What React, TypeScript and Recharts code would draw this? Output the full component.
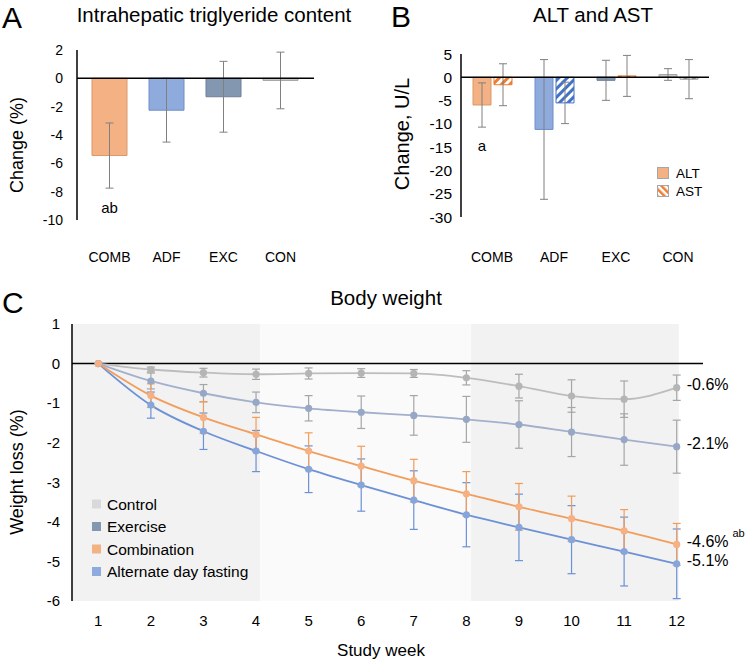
import React from "react";
import {
  Bar,
  BarChart,
  Cell,
  ErrorBar,
  LabelList,
  Line,
  LineChart,
  ReferenceArea,
  ReferenceLine,
  XAxis,
  YAxis,
} from "recharts";

const FONT = '"Liberation Sans", Arial, Helvetica, sans-serif';

// groups shared by panels A and B
const groups = ["COMB", "ADF", "EXC", "CON"];

// A: intrahepatic triglyceride change (%)
const ihtcChange = [-5.45, -2.25, -1.3, -0.15];
const ihtcErr = [2.3, 2.25, 2.5, 2.0];
const ihtcSig = ["ab", "", "", ""];

// B: ALT / AST change (U/L)
const altChange = [-5.95, -11.2, -0.65, 0.6];
const altErr = [4.75, 15.0, 4.3, 1.25];
const astChange = [-1.6, -5.5, 0.3, -0.4];
const astErr = [4.5, 4.45, 4.4, 4.2];
const altSig = ["a", "", "", ""];

// C: body weight change (%) by study week
const weeks = [1, 2, 3, 4, 5, 6, 7, 8, 9, 10, 11, 12];
const controlLoss = [0, -0.15, -0.23, -0.27, -0.25, -0.24, -0.25, -0.36, -0.57, -0.82, -0.9, -0.61];
const controlErr = [0, 0.06, 0.11, 0.13, 0.14, 0.11, 0.1, 0.18, 0.3, 0.41, 0.46, 0.32];
const exerciseLoss = [0, -0.44, -0.75, -0.98, -1.13, -1.23, -1.31, -1.41, -1.54, -1.73, -1.92, -2.1];
const exerciseErr = [0, 0.2, 0.22, 0.26, 0.32, 0.41, 0.5, 0.58, 0.6, 0.62, 0.65, 0.67];
const combinationLoss = [0, -0.81, -1.36, -1.79, -2.21, -2.59, -2.96, -3.29, -3.62, -3.92, -4.23, -4.57];
const combinationErr = [0, 0.3, 0.4, 0.43, 0.46, 0.5, 0.54, 0.56, 0.59, 0.57, 0.54, 0.53];
const adfLoss = [0, -1.05, -1.71, -2.21, -2.67, -3.07, -3.45, -3.82, -4.14, -4.45, -4.75, -5.06];
const adfErr = [0, 0.33, 0.46, 0.52, 0.59, 0.66, 0.74, 0.81, 0.84, 0.86, 0.87, 0.88];
const finalLabels = ["-0.6%", "-2.1%", "-4.6%", "-5.1%"];
const finalSup = ["", "", "ab", ""];
const phaseStart = [0.5, 4.08, 8.09];
const phaseEnd = [4.08, 8.09, 12.04];

const groupFill = ["#F4B183", "#8FAADC", "#8497B0", "#C9C9C9"];
const groupEdge = ["#D9996A", "#6F8FC8", "#6F7F99", "#A6A6A6"];
const groupHatch = ["#ED7D31", "#4472C4", "#ED7D31", "#8C8C8C"];
const phaseFill = ["#F2F2F2", "#FAFAFA", "#F2F2F2"];

const weightSeries = [
  { key: "control", name: "Control", line: "#BDBDBD", dot: "#B5B5B5", err: "#A6A6A6", swatch: "#D9D9D9" },
  { key: "exercise", name: "Exercise", line: "#A3B0CC", dot: "#97A7C6", err: "#A6A6A6", swatch: "#8497B0" },
  { key: "adf", name: "Alternate day fasting", line: "#6C91D6", dot: "#86A5DB", err: "#6C91D6", swatch: "#8FAADC" },
  { key: "combination", name: "Combination", line: "#F29D5C", dot: "#F5B183", err: "#F29D5C", swatch: "#F4B183" },
];
const legendOrder = ["control", "exercise", "combination", "adf"];

const ihtcData = groups.map((g, i) => ({ group: g, change: ihtcChange[i], err: ihtcErr[i], sig: ihtcSig[i] }));
const liverData = groups.map((g, i) => ({
  group: g,
  alt: altChange[i],
  altErr: altErr[i],
  ast: astChange[i],
  astErr: astErr[i],
  sig: altSig[i],
}));
const weightData = weeks.map((w, i) => ({
  week: w,
  control: controlLoss[i],
  controlErr: controlErr[i],
  exercise: exerciseLoss[i],
  exerciseErr: exerciseErr[i],
  combination: combinationLoss[i],
  combinationErr: combinationErr[i],
  adf: adfLoss[i],
  adfErr: adfErr[i],
}));
const finalByKey: Record<string, { text: string; sup: string }> = {
  control: { text: finalLabels[0], sup: finalSup[0] },
  exercise: { text: finalLabels[1], sup: finalSup[1] },
  combination: { text: finalLabels[2], sup: finalSup[2] },
  adf: { text: finalLabels[3], sup: finalSup[3] },
};

const sideTitle = (text: string, x: number, y: number, size: number) => () => (
  <text
    x={x}
    y={y}
    transform={`rotate(-90 ${x} ${y})`}
    textAnchor="middle"
    dominantBaseline="central"
    fontSize={size}
    fill="#000"
  >
    {text}
  </text>
);

// significance letters drawn under a bar
const sigLabel = (offset: number) => (props: any) => {
  const { x, y, width, height, value } = props;
  if (!value) return null;
  const bottom = Math.max(y, y + height);
  return (
    <text x={x + width / 2} y={bottom + offset} textAnchor="middle" dominantBaseline="central" fontSize={15} fill="#000">
      {value}
    </text>
  );
};

const endLabel = (key: string) => (props: any) => {
  const { x, y, index } = props;
  if (index !== weeks.length - 1) return null;
  const f = finalByKey[key];
  return (
    <text x={x + 10} y={y - 3} dominantBaseline="central" fontSize={16} fill="#000">
      {f.text}
      {f.sup ? (
        <tspan dx={4} dy={-8} fontSize={11}>
          {f.sup}
        </tspan>
      ) : null}
    </text>
  );
};

const tickStyle = { fontSize: 14, fill: "#000" };

function PanelA() {
  return (
    <BarChart width={330} height={280} data={ihtcData} margin={{ top: 50, right: 16, bottom: 0, left: 20 }}>
      <XAxis
        dataKey="group"
        axisLine={false}
        tickLine={false}
        height={60}
        tickMargin={26}
        padding={{ left: 4, right: 5 }}
        tick={tickStyle}
      />
      <YAxis
        width={57}
        domain={[-10, 2]}
        ticks={[-10, -8, -6, -4, -2, 0, 2]}
        tickLine={false}
        tickMargin={8}
        axisLine={{ stroke: "#000", strokeWidth: 1.5 }}
        tick={tickStyle}
        label={{ content: sideTitle("Change (%)", 17, 145, 18) }}
      />
      <Bar dataKey="change" barSize={35} isAnimationActive={false}>
        {ihtcData.map((d, i) => (
          <Cell key={d.group} fill={groupFill[i]} stroke={groupEdge[i]} strokeWidth={1} />
        ))}
        <ErrorBar dataKey="err" width={4} stroke="#808080" strokeWidth={1} />
        <LabelList dataKey="sig" content={sigLabel(52)} />
      </Bar>
      <ReferenceLine y={0} stroke="#000" strokeWidth={1.5} />
    </BarChart>
  );
}

function PanelB() {
  return (
    <BarChart
      width={340}
      height={280}
      data={liverData}
      barGap={3}
      margin={{ top: 54, right: 11, bottom: 0, left: 30 }}
    >
      <defs>
        {groupHatch.map((c, i) => (
          <pattern
            key={i}
            id={`hatch-${i}`}
            width={6}
            height={6}
            patternUnits="userSpaceOnUse"
            patternTransform="rotate(45)"
          >
            <rect width={6} height={6} fill="#fff" />
            <rect width={3} height={6} fill={c} />
          </pattern>
        ))}
      </defs>
      <XAxis dataKey="group" axisLine={false} tickLine={false} height={63} tickMargin={29} tick={tickStyle} />
      <YAxis
        width={51}
        domain={[-30, 5]}
        ticks={[-30, -25, -20, -15, -10, -5, 0, 5]}
        tickLine={false}
        tickMargin={3}
        axisLine={{ stroke: "#000", strokeWidth: 1.5 }}
        tick={{ fontSize: 15.5, fill: "#000" }}
        label={{ content: sideTitle("Change, U/L", 22, 134, 20) }}
      />
      <Bar dataKey="alt" barSize={18} isAnimationActive={false}>
        {liverData.map((d, i) => (
          <Cell key={d.group} fill={groupFill[i]} stroke={groupEdge[i]} strokeWidth={1} />
        ))}
        <ErrorBar dataKey="altErr" width={4} stroke="#808080" strokeWidth={1} />
        <LabelList dataKey="sig" content={sigLabel(41)} />
      </Bar>
      <Bar dataKey="ast" barSize={18} isAnimationActive={false}>
        {liverData.map((d, i) => (
          <Cell key={d.group} fill={`url(#hatch-${i})`} stroke={groupHatch[i]} strokeWidth={1} />
        ))}
        <ErrorBar dataKey="astErr" width={4} stroke="#808080" strokeWidth={1} />
      </Bar>
      <ReferenceLine y={0} stroke="#000" strokeWidth={1.5} />
    </BarChart>
  );
}

function PanelC() {
  return (
    <LineChart width={750} height={361} data={weightData} margin={{ top: 24, right: 47, bottom: 0, left: 0 }}>
      {phaseStart.map((s, i) => (
        <ReferenceArea key={i} x1={s} x2={phaseEnd[i]} fill={phaseFill[i]} fillOpacity={1} stroke="none" />
      ))}
      <XAxis
        dataKey="week"
        type="number"
        domain={[0.5, 12.5]}
        ticks={weeks}
        axisLine={false}
        tickLine={false}
        height={60}
        tickMargin={8}
        tick={{ fontSize: 15, fill: "#000" }}
        label={{
          content: () => (
            <text x={381} y={350} textAnchor="middle" dominantBaseline="central" fontSize={17} fill="#000">
              Study week
            </text>
          ),
        }}
      />
      <YAxis
        width={72}
        domain={[-6, 1]}
        ticks={[-6, -5, -4, -3, -2, -1, 0, 1]}
        tickLine={false}
        tickMargin={6}
        axisLine={{ stroke: "#000", strokeWidth: 1.5 }}
        tick={{ fontSize: 15, fill: "#000" }}
        label={{ content: sideTitle("Weight loss (%)", 17, 172, 18) }}
      />
      <ReferenceLine y={0} stroke="#000" strokeWidth={1.5} />
      {weightSeries.map((s) => (
        <Line
          key={s.key}
          type="monotone"
          dataKey={s.key}
          stroke={s.line}
          strokeWidth={1.8}
          dot={{ r: 3.6, fill: s.dot, stroke: s.dot, strokeWidth: 0 }}
          activeDot={false}
          isAnimationActive={false}
        >
          <ErrorBar dataKey={`${s.key}Err`} width={4} stroke={s.err} strokeWidth={1.2} />
          <LabelList dataKey={s.key} content={endLabel(s.key)} />
        </Line>
      ))}
    </LineChart>
  );
}

export default function App() {
  const legendC = legendOrder.map((k) => weightSeries.find((s) => s.key === k)!);
  return (
    <div
      style={{
        position: "absolute",
        left: 0,
        top: 0,
        width: 750,
        height: 661,
        background: "#fff",
        fontFamily: FONT,
        overflow: "hidden",
      }}
    >
      <div style={{ position: "absolute", left: 0, top: 0 }}>
        <PanelA />
      </div>
      <div style={{ position: "absolute", left: 380, top: 0 }}>
        <PanelB />
      </div>
      <div style={{ position: "absolute", left: 0, top: 300 }}>
        <PanelC />
      </div>
      <svg
        width={750}
        height={661}
        style={{ position: "absolute", left: 0, top: 0, pointerEvents: "none", fontFamily: FONT }}
      >
        <defs>
          <pattern id="legend-hatch" width={5} height={5} patternUnits="userSpaceOnUse" patternTransform="rotate(-45)">
            <rect width={5} height={5} fill="#fff" />
            <rect width={2.5} height={5} fill="#ED7D31" />
          </pattern>
        </defs>
        <text x={2} y={28} fontSize={30} fill="#000">A</text>
        <text x={391} y={27} fontSize={30} fill="#000">B</text>
        <text x={2} y={313} fontSize={30} fill="#000">C</text>
        <text x={214} y={22} fontSize={20.5} textAnchor="middle" fill="#000">
          Intrahepatic triglyeride content
        </text>
        <text x={593} y={22} fontSize={20.5} textAnchor="middle" fill="#000">
          ALT and AST
        </text>
        <text x={386} y={305} fontSize={20.5} textAnchor="middle" fill="#000">
          Body weight
        </text>
        {/* legend B */}
        <rect x={657.5} y={167.5} width={11} height={11} fill={groupFill[0]} stroke="#A6A6A6" />
        <text x={676} y={173} fontSize={13.5} dominantBaseline="central" fill="#000">ALT</text>
        <rect x={657.5} y={185.5} width={11} height={11} fill="url(#legend-hatch)" stroke="#A6A6A6" />
        <text x={676} y={191} fontSize={13.5} dominantBaseline="central" fill="#000">AST</text>
        {/* legend C */}
        {legendC.map((s, i) => (
          <g key={s.key}>
            <rect x={92} y={499.5 + i * 22.5} width={9} height={9} fill={s.swatch} />
            <text x={107} y={504 + i * 22.5} fontSize={15.5} dominantBaseline="central" fill="#000">
              {s.name}
            </text>
          </g>
        ))}
      </svg>
    </div>
  );
}
